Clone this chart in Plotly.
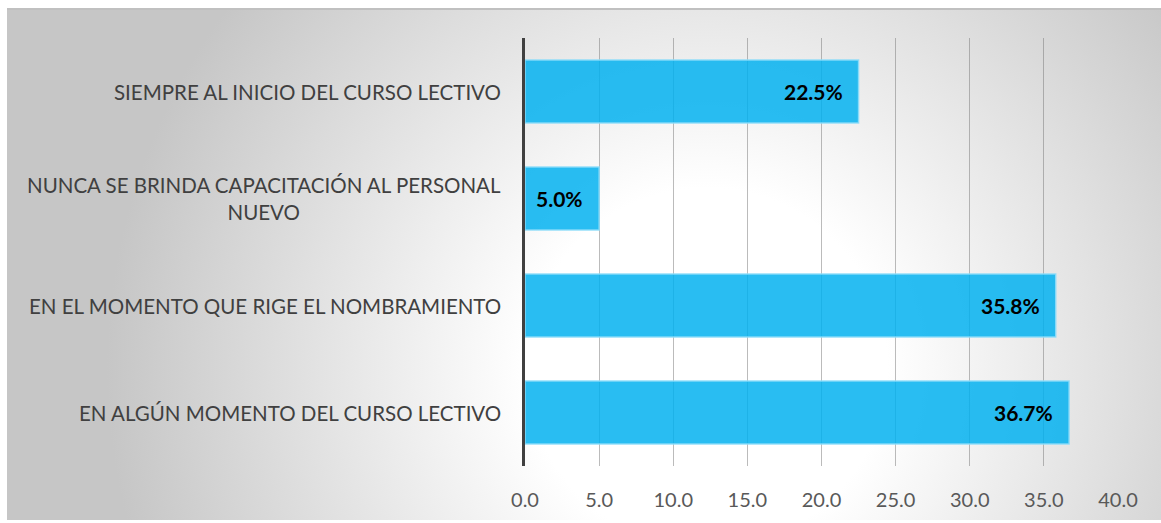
import base64
import plotly.graph_objects as go

categories = [
    "SIEMPRE AL INICIO DEL CURSO LECTIVO",
    "NUNCA SE BRINDA CAPACITACIÓN AL PERSONAL<br>NUEVO",
    "EN EL MOMENTO QUE RIGE EL NOMBRAMIENTO",
    "EN ALGÚN MOMENTO DEL CURSO LECTIVO",
]
values = [22.5, 5.0, 35.8, 36.7]
value_labels = ["22.5%", "5.0%", "35.8%", "36.7%"]
tick_vals = [0, 5, 10, 15, 20, 25, 30, 35, 40]

W, H = 1161, 523
ML, MR, MT, MB = 525, 43, 38, 57
PW, PH = W - ML - MR, H - MT - MB

FONT = "Lato"

# background gradient (decoration)
bx0, by0, bx1, by1 = 7, 8, 1161, 520
bw, bh = bx1 - bx0, by1 - by0
svg = f'''<svg xmlns="http://www.w3.org/2000/svg" width="{bw}" height="{bh}" viewBox="0 0 {bw} {bh}">
<defs><radialGradient id="g" gradientUnits="userSpaceOnUse" cx="700" cy="360" r="600">
<stop offset="0" stop-color="#ffffff"/><stop offset="0.3" stop-color="#ffffff"/>
<stop offset="1" stop-color="#c6c6c6"/></radialGradient></defs>
<rect x="0" y="0" width="{bw}" height="{bh}" fill="url(#g)"/>
<rect x="0" y="0" width="{bw}" height="2" fill="#c0c0c0"/>
</svg>'''
src = "data:image/svg+xml;base64," + base64.b64encode(svg.encode()).decode()

fig = go.Figure()
fig.add_trace(go.Bar(
    y=categories, x=values, orientation="h",
    marker=dict(color="rgba(0,176,240,0.84)", line=dict(color="rgba(140,220,250,0.9)", width=1.5)),
    width=0.59, hoverinfo="skip",
))

for c, v, t in zip(categories, values, value_labels):
    fig.add_annotation(x=v, y=c, xref="x", yref="y", text=f"<b>{t}</b>", showarrow=False,
                       xanchor="right", xshift=-14, font=dict(family=FONT, size=21, color="#000000"))
    fig.add_annotation(x=0, y=c, xref="x", yref="y", text=c, showarrow=False,
                       xanchor="right", align="center", xshift=-22,
                       font=dict(family=FONT, size=20.5, color="#404040"))

fig.update_layout(
    width=W, height=H,
    margin=dict(l=ML, r=MR, t=MT, b=MB, pad=0),
    paper_bgcolor="#ffffff", plot_bgcolor="rgba(0,0,0,0)",
    showlegend=False,
    images=[dict(source=src, xref="paper", yref="paper",
                 x=(bx0 - ML) / PW, y=(H - MB - by0) / PH,
                 sizex=bw / PW, sizey=bh / PH, sizing="stretch",
                 xanchor="left", yanchor="top", layer="below")],
    xaxis=dict(range=[0, 40], tickvals=tick_vals, tickformat=".1f", showgrid=True,
               gridcolor="rgba(120,120,120,0.5)", gridwidth=1.3, zeroline=False,
               showline=False, ticks="", ticklabelstandoff=20,
               tickfont=dict(family=FONT, size=20, color="#595959")),
    yaxis=dict(categoryorder="array", categoryarray=categories, autorange="reversed",
               showticklabels=False, showgrid=False, zeroline=False,
               showline=True, linecolor="#404040", linewidth=3, ticks=""),
)

fig.write_html("out.html", config={"displayModeBar": False},
               post_script="document.body.style.margin='0';")
